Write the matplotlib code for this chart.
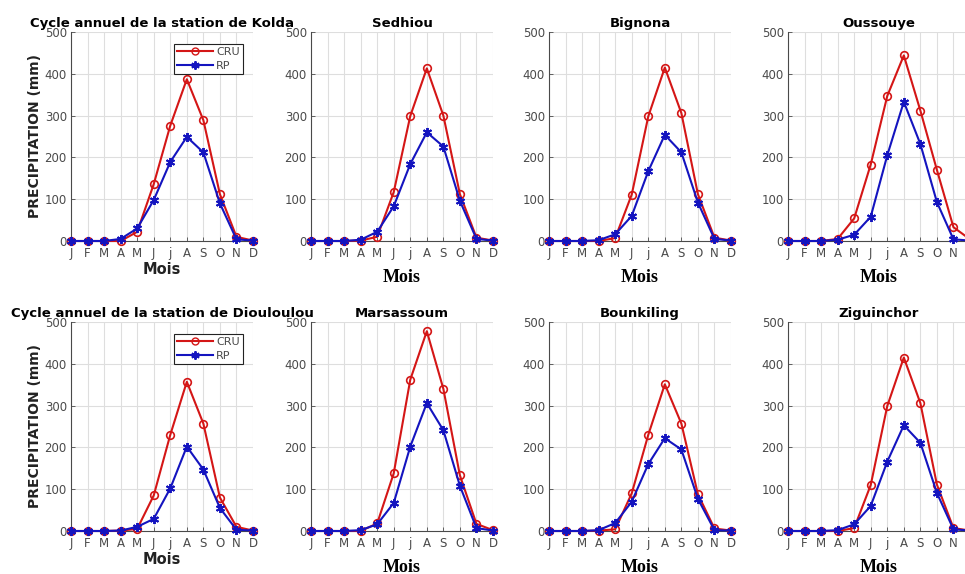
import matplotlib
matplotlib.use("Agg")
import matplotlib.pyplot as plt
from matplotlib.lines import Line2D

# Monthly climatology (mm): CRU vs rain-gauge (RP) for eight stations
months = ["J", "F", "M", "A", "M", "J", "j", "A", "S", "O", "N", "D"]

kolda_cru = [0, 0, 0, 0, 22, 136, 276, 387, 289, 112, 10, 1]
kolda_rp = [0, 0, 0, 5, 30, 98, 189, 249, 212, 90, 4, 1]

sedhiou_cru = [0, 0, 0, 1, 10, 117, 299, 413, 300, 112, 8, 1]
sedhiou_rp = [0, 0, 0, 3, 22, 83, 184, 260, 226, 96, 5, 1]

bignona_cru = [0, 0, 0, 0, 7, 111, 298, 415, 306, 112, 8, 1]
bignona_rp = [0, 0, 0, 2, 16, 60, 167, 254, 212, 92, 5, 1]

oussouye_cru = [0, 0, 0, 5, 54, 183, 347, 444, 312, 170, 33, 4]
oussouye_rp = [0, 0, 0, 3, 15, 58, 205, 333, 232, 93, 4, 1]

diouloulou_cru = [0, 0, 0, 1, 5, 85, 230, 357, 257, 80, 10, 1]
diouloulou_rp = [0, 0, 0, 1, 10, 29, 102, 202, 147, 55, 3, 1]

marsassoum_cru = [0, 0, 0, 0, 18, 138, 362, 478, 340, 133, 17, 2]
marsassoum_rp = [0, 0, 0, 2, 16, 67, 202, 306, 241, 108, 7, 1]

bounkiling_cru = [0, 0, 0, 1, 4, 90, 230, 351, 257, 88, 6, 1]
bounkiling_rp = [0, 0, 0, 2, 19, 70, 160, 222, 195, 77, 2, 1]

ziguinchor_cru = [0, 0, 0, 0, 7, 110, 299, 415, 306, 111, 7, 1]
ziguinchor_rp = [0, 0, 0, 2, 16, 60, 166, 253, 211, 91, 4, 1]

titles = ["Cycle annuel de la station de Kolda", "Sedhiou", "Bignona", "Oussouye",
          "Cycle annuel de la station de Diouloulou", "Marsassoum", "Bounkiling", "Ziguinchor"]
cru_series = [kolda_cru, sedhiou_cru, bignona_cru, oussouye_cru,
              diouloulou_cru, marsassoum_cru, bounkiling_cru, ziguinchor_cru]
rp_series = [kolda_rp, sedhiou_rp, bignona_rp, oussouye_rp,
             diouloulou_rp, marsassoum_rp, bounkiling_rp, ziguinchor_rp]

RED = "#d41616"
BLUE = "#1414bf"
TXT = "#4a4a4a"
ASTER = (6, 2, 0)

W, H = 965, 574
fig = plt.figure(figsize=(W / 100, H / 100), dpi=100)

lefts_px = [71, 311, 549, 788]
tops_px = [32, 322]
ax_w_px, ax_h_px = 182, 209

x = list(range(1, 13))

for i in range(8):
    row, col = divmod(i, 4)
    l = lefts_px[col] / W
    b = 1 - (tops_px[row] + ax_h_px) / H
    ax = fig.add_axes([l, b, ax_w_px / W, ax_h_px / H])

    ax.plot(x, cru_series[i], color=RED, lw=1.5, marker="o", ms=5.5,
            mfc="none", mec=RED, mew=1.2, clip_on=False, zorder=3)
    ax.plot(x, rp_series[i], color=BLUE, lw=1.5, marker=ASTER, ms=6.5,
            mec=BLUE, mew=1.4, clip_on=False, zorder=4)

    ax.set_xlim(1, 12)
    ax.set_ylim(0, 500)
    ax.set_xticks(x)
    ax.set_xticklabels(months)
    ax.set_yticks([0, 100, 200, 300, 400, 500])
    ax.grid(True, color="#dedede", lw=0.8)
    ax.set_axisbelow(True)
    for s in ("top", "right"):
        ax.spines[s].set_visible(False)
    for s in ("left", "bottom"):
        ax.spines[s].set_color("#4a4a4a")
        ax.spines[s].set_linewidth(0.8)
    ax.tick_params(direction="in", length=3, width=0.6, colors="#4a4a4a",
                   labelcolor=TXT, labelsize=8.5)
    ax.tick_params(axis="x", pad=4.5)
    ax.tick_params(axis="y", pad=3)

    ax.set_title(titles[i], fontsize=9.5, fontweight="bold", pad=3.5,
                 family="DejaVu Sans")

    if col == 0:
        ax.set_xlabel("Mois", fontsize=10.5, fontweight="bold",
                      family="DejaVu Sans", color="#222222", labelpad=1)
        ax.set_ylabel("PRECIPITATION (mm)", fontsize=10, fontweight="bold",
                      family="DejaVu Sans", color="#222222", labelpad=2)
        handles = [
            Line2D([], [], color=RED, lw=1.5, marker="o", ms=5, mfc="none", mec=RED),
            Line2D([], [], color=BLUE, lw=1.5, marker=ASTER, ms=6, mec=BLUE, mew=1.4),
        ]
        leg = ax.legend(handles, ["CRU", "RP"], loc="upper right",
                        bbox_to_anchor=(0.945, 0.943), fontsize=8,
                        frameon=True, fancybox=False, framealpha=1,
                        edgecolor="#222222", handlelength=3.2,
                        handletextpad=0.3, borderpad=0.3, labelspacing=0.3,
                        borderaxespad=0)
        leg.get_frame().set_linewidth(0.8)
        for t in leg.get_texts():
            t.set_color(TXT)
    else:
        ax.set_xlabel("Mois", fontsize=13, fontweight="bold",
                      family="Liberation Serif", color="black", labelpad=6)

fig.savefig("out.png", dpi=100)
